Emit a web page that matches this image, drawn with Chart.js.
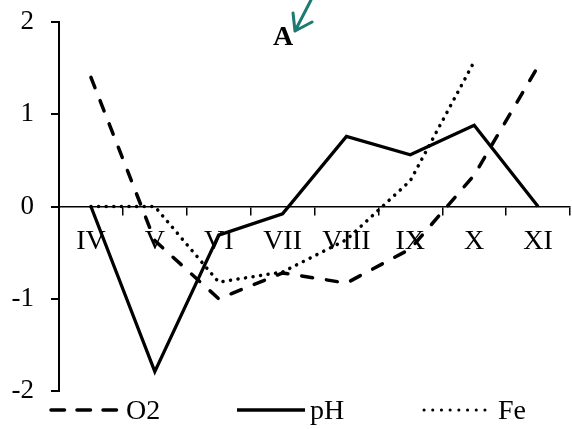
<!DOCTYPE html>
<html>
<head>
<meta charset="utf-8">
<script src="https://cdn.jsdelivr.net/npm/chart.js@4/dist/chart.umd.min.js"></script>
<style>
  html, body { margin: 0; padding: 0; background: #fff; }
  canvas { display: block; }
</style>
</head>
<body>
<canvas id="chart" width="572" height="429"></canvas>
<script>
// Months (Roman numerals) and the three measured series
const months = ['IV', 'V', 'VI', 'VII', 'VIII', 'IX', 'X', 'XI'];
const o2Values = [1.4, -0.37, -1.0, -0.72, -0.83, -0.46, 0.34, 1.52];
const phValues = [0, -1.79, -0.31, -0.08, 0.76, 0.56, 0.88, 0];
const feValues = [0, 0, -0.82, -0.71, -0.36, 0.28, 1.57, null];
const yTicks = [-2, -1, 0, 1, 2];
const panelLabel = 'A';

const FONT = 'Liberation Serif, Times New Roman, serif';

// Panel letter with the small teal arrow pointing at it
const panelLabelPlugin = {
  id: 'panelLabel',
  afterDraw(chart) {
    const ctx = chart.ctx;
    ctx.save();
    ctx.fillStyle = '#000';
    ctx.font = 'bold 28px ' + FONT;
    ctx.textAlign = 'center';
    ctx.textBaseline = 'middle';
    ctx.fillText(panelLabel, 283, 38);

    ctx.strokeStyle = '#1d7a72';
    ctx.lineWidth = 3;
    ctx.lineCap = 'round';
    ctx.lineJoin = 'round';
    ctx.beginPath();
    ctx.moveTo(311, 0);
    ctx.lineTo(295, 31);
    ctx.moveTo(293, 13);
    ctx.lineTo(295, 31);
    ctx.lineTo(312, 22);
    ctx.stroke();
    ctx.restore();
  }
};

// Legend row beneath the plot, using each dataset's own line style
const lineLegendPlugin = {
  id: 'lineLegend',
  afterDraw(chart) {
    const ctx = chart.ctx;
    const slots = [
      { x0: 51, x1: 120, tx: 126, dash: [13.5, 12.5] },
      { x0: 237, x1: 305, tx: 310, dash: [] },
      { x0: 424, x1: 492, tx: 498, dash: [0.1, 8.6] }
    ];
    const y = 410;
    chart.data.datasets.forEach((ds, i) => {
      const s = slots[i];
      ctx.save();
      ctx.strokeStyle = ds.borderColor;
      ctx.lineWidth = i === 2 ? 3 : 3.5;
      ctx.lineCap = i === 1 ? 'butt' : 'round';
      ctx.setLineDash(s.dash);
      ctx.beginPath();
      ctx.moveTo(s.x0, y);
      ctx.lineTo(s.x1, y);
      ctx.stroke();
      ctx.setLineDash([]);
      ctx.fillStyle = '#000';
      ctx.font = '28px ' + FONT;
      ctx.textAlign = 'left';
      ctx.textBaseline = 'middle';
      ctx.fillText(ds.label, s.tx, y + 2);
      ctx.restore();
    });
  }
};

new Chart(document.getElementById('chart'), {
  type: 'line',
  data: {
    labels: months,
    datasets: [
      {
        label: 'O2',
        data: o2Values,
        borderColor: '#000',
        borderWidth: 3.5,
        borderDash: [11, 14],
        borderCapStyle: 'round',
        borderJoinStyle: 'round',
        pointRadius: 0,
        tension: 0,
        fill: false
      },
      {
        label: 'pH',
        data: phValues,
        borderColor: '#000',
        borderWidth: 3.3,
        borderCapStyle: 'butt',
        borderJoinStyle: 'miter',
        pointRadius: 0,
        tension: 0,
        fill: false
      },
      {
        label: 'Fe',
        data: feValues,
        borderColor: '#000',
        borderWidth: 3.5,
        borderDash: [0.1, 7.5],
        borderCapStyle: 'round',
        borderJoinStyle: 'round',
        pointRadius: 0,
        tension: 0,
        fill: false,
        spanGaps: false
      }
    ]
  },
  options: {
    responsive: false,
    animation: false,
    layout: { padding: { top: 22, right: 2, bottom: 38, left: 0 } },
    plugins: {
      legend: { display: false },
      title: { display: false },
      tooltip: { enabled: false }
    },
    scales: {
      x: {
        type: 'category',
        offset: true,
        position: { y: 0 },
        grid: {
          offset: true,
          drawOnChartArea: false,
          drawTicks: true,
          tickLength: 8,
          color: '#000',
          lineWidth: 1.5
        },
        border: { display: true, color: '#000', width: 1.5 },
        ticks: {
          color: '#000',
          font: { family: FONT, size: 28 },
          padding: 10,
          maxRotation: 0,
          autoSkip: false
        }
      },
      y: {
        min: -2,
        max: 2,
        afterBuildTicks(scale) {
          scale.ticks = yTicks.map(v => ({ value: v }));
        },
        afterFit(scale) {
          scale.width = 59;
          // the layout padding already leaves room for the end labels
          scale.paddingTop = 0;
          scale.paddingBottom = 0;
        },
        grid: {
          drawOnChartArea: false,
          drawTicks: true,
          tickLength: 8,
          color: '#000',
          lineWidth: 2
        },
        border: { display: true, color: '#000', width: 2 },
        ticks: {
          color: '#000',
          font: { family: FONT, size: 27 },
          padding: 17
        }
      }
    }
  },
  plugins: [panelLabelPlugin, lineLegendPlugin]
});
</script>
</body>
</html>
